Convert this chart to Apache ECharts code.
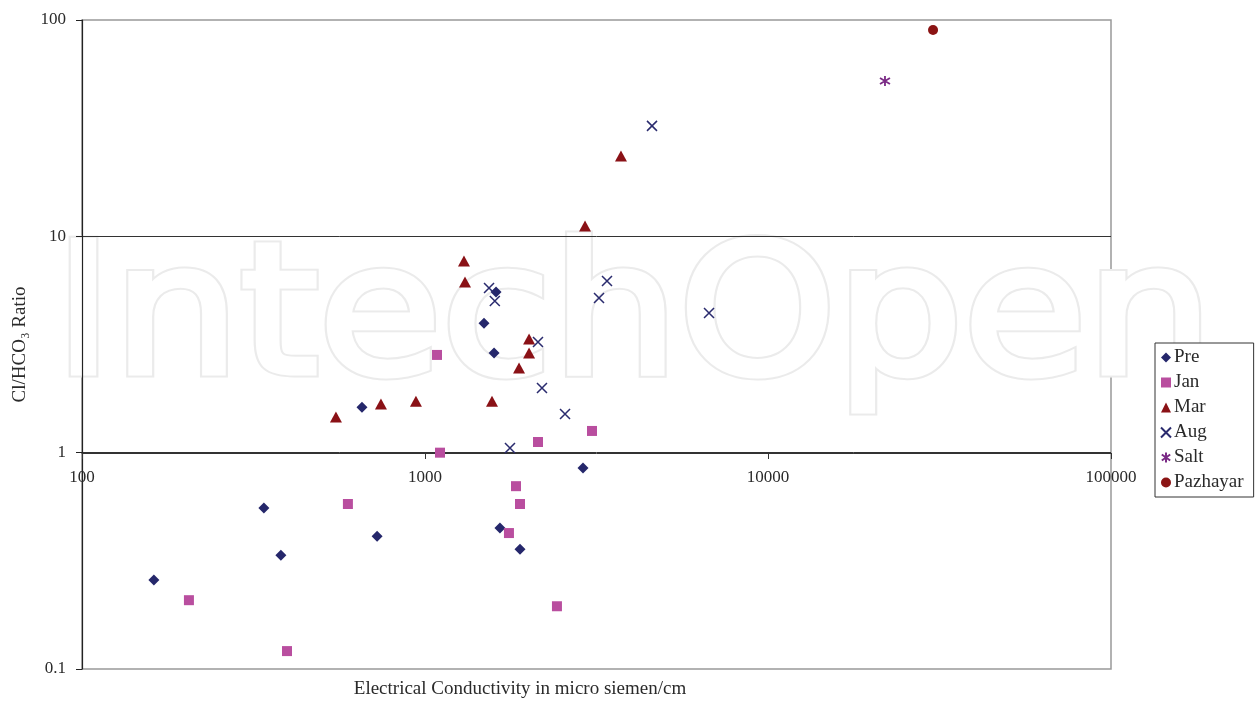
<!DOCTYPE html>
<html>
<head>
<meta charset="utf-8">
<script src="https://cdn.jsdelivr.net/npm/echarts@6/dist/echarts.min.js"></script>
<style>
  html, body { margin: 0; padding: 0; background: #fff; }
  #chart { width: 1260px; height: 701px; }
</style>
</head>
<body>
<div id="chart"></div>
<script>
// Electrical conductivity (micro siemen/cm) vs Cl/HCO3 ratio, by sampling season
const preEC  = [162, 339, 380, 655, 725, 1486, 1611, 1590, 1654, 1892, 2888];
const preRatio = [0.258, 0.555, 0.336, 1.62, 0.411, 3.97, 5.53, 2.89, 0.448, 0.358, 0.849];

const janEC  = [205, 396, 596, 1084, 1106, 1842, 1892, 1757, 2135, 2425, 3068];
const janRatio = [0.208, 0.121, 0.579, 2.83, 1.0, 0.70, 0.579, 0.425, 1.12, 0.195, 1.26];

const marEC  = [550, 744, 941, 1299, 1308, 1568, 1880, 2011, 2011, 2928, 3727];
const marRatio = [1.46, 1.68, 1.73, 7.69, 6.15, 1.73, 2.46, 2.89, 3.35, 11.16, 23.5];

const augEC  = [1537, 1598, 1769, 2135, 2193, 2560, 3216, 3393, 4590, 6730];
const augRatio = [5.77, 5.02, 1.05, 3.25, 1.99, 1.51, 5.19, 6.21, 32.4, 4.42];

const saltEC = [21930];
const saltRatio = [52.2];

const pazhayarEC = [30280];
const pazhayarRatio = [89.9];

const xTicks = [100, 1000, 10000, 100000];
const yTicks = [0.1, 1, 10, 100];

const FONT = '"Liberation Serif", "DejaVu Serif", serif';
const TEXT = '#2a2a2a';

function pairs(xs, ys) { return xs.map((x, i) => [x, ys[i]]); }
function fmt(v) { return String(+Number(v).toPrecision(6)); }

const crossPath = 'path://M0,0L10,10M10,0L0,10';
const starPath = 'path://M5,0L5,10M0.8,2L9.2,8M9.2,2L0.8,8';

// hollow outlined watermark: a light ring around each glyph
const markFont = '181px "DejaVu Sans", sans-serif';
const markPos = { x: 54, y: 326, scaleX: 1.106 };

function markLayer(stroke, width) {
  return {
    type: 'text', z: 0, silent: true,
    x: markPos.x, y: markPos.y, scaleX: markPos.scaleX,
    style: {
      text: 'IntechOpen', font: markFont,
      fill: '#ffffff', stroke: stroke, lineWidth: width,
      textVerticalAlign: 'middle'
    }
  };
}

const chart = echarts.init(document.getElementById('chart'), null, { renderer: 'canvas' });

chart.setOption({
  backgroundColor: '#ffffff',
  animation: false,
  textStyle: { fontFamily: FONT },
  graphic: [
    markLayer('#ebebeb', 9),
    markLayer('#ffffff', 5),
    {
      type: 'text',
      z: 5,
      x: 520,
      y: 689,
      style: {
        text: 'Electrical Conductivity in micro siemen/cm',
        font: '19px ' + FONT,
        fill: TEXT,
        textAlign: 'center',
        textVerticalAlign: 'middle'
      }
    }
  ],
  grid: {
    left: 82, right: 149, top: 20, bottom: 32,
    show: true,
    borderColor: '#999',
    borderWidth: 1.5,
    backgroundColor: 'transparent'
  },
  legend: {
    orient: 'vertical',
    left: 1155,
    top: 343,
    padding: [5, 10, 5, 5],
    borderColor: '#333',
    borderWidth: 1,
    backgroundColor: '#fff',
    itemWidth: 10,
    itemHeight: 10,
    itemGap: 6,
    textStyle: { fontFamily: FONT, fontSize: 19, color: TEXT, padding: [0, 0, 0, -2] },
    data: ['Pre', 'Jan', 'Mar', 'Aug', 'Salt', 'Pazhayar']
  },
  xAxis: {
    type: 'log',
    logBase: 10,
    min: xTicks[0],
    max: xTicks[xTicks.length - 1],
    position: 'bottom',
    offset: -216,
    axisLine: { show: true, lineStyle: { color: '#333', width: 1 } },
    axisTick: { show: true, length: 6, lineStyle: { color: '#333' } },
    axisLabel: {
      fontFamily: FONT, fontSize: 17, color: TEXT, margin: 16,
      formatter: fmt
    },
    splitLine: { show: false }
  },
  yAxis: {
    type: 'log',
    logBase: 10,
    min: yTicks[0],
    max: yTicks[yTicks.length - 1],
    name: 'Cl/HCO\u2083 Ratio',
    nameLocation: 'middle',
    nameGap: 48,
    nameRotate: 90,
    nameTextStyle: { fontFamily: FONT, fontSize: 19, color: TEXT },
    axisLine: { show: true, lineStyle: { color: '#222', width: 1.2 } },
    axisTick: { show: true, length: 6, lineStyle: { color: '#222' } },
    axisLabel: {
      fontFamily: FONT, fontSize: 17, color: TEXT, margin: 16,
      formatter: fmt
    },
    splitLine: {
      show: true,
      showMinLine: false,
      showMaxLine: false,
      lineStyle: { color: '#333', width: 1 }
    }
  },
  series: [
    {
      name: 'Pre', type: 'scatter', z: 3,
      symbol: 'diamond', symbolSize: 11,
      itemStyle: { color: '#25276b', opacity: 1 },
      data: pairs(preEC, preRatio)
    },
    {
      name: 'Jan', type: 'scatter', z: 3,
      symbol: 'rect', symbolSize: 10,
      itemStyle: { color: '#b94e9f', opacity: 1 },
      data: pairs(janEC, janRatio)
    },
    {
      name: 'Mar', type: 'scatter', z: 3,
      symbol: 'triangle', symbolSize: [12, 11],
      itemStyle: { color: '#8a1116', opacity: 1 },
      data: pairs(marEC, marRatio)
    },
    {
      name: 'Aug', type: 'scatter', z: 3,
      symbol: crossPath, symbolSize: 10,
      itemStyle: { color: 'rgba(0,0,0,0)', borderColor: '#2a2b6e', borderWidth: 1.5, opacity: 1 },
      data: pairs(augEC, augRatio)
    },
    {
      name: 'Salt', type: 'scatter', z: 3,
      symbol: starPath, symbolSize: 10,
      itemStyle: { color: 'rgba(0,0,0,0)', borderColor: '#7a2a85', borderWidth: 1.8, opacity: 1 },
      data: pairs(saltEC, saltRatio)
    },
    {
      name: 'Pazhayar', type: 'scatter', z: 3,
      symbol: 'circle', symbolSize: 10,
      itemStyle: { color: '#8b1414', opacity: 1 },
      data: pairs(pazhayarEC, pazhayarRatio)
    }
  ]
});
</script>
</body>
</html>
